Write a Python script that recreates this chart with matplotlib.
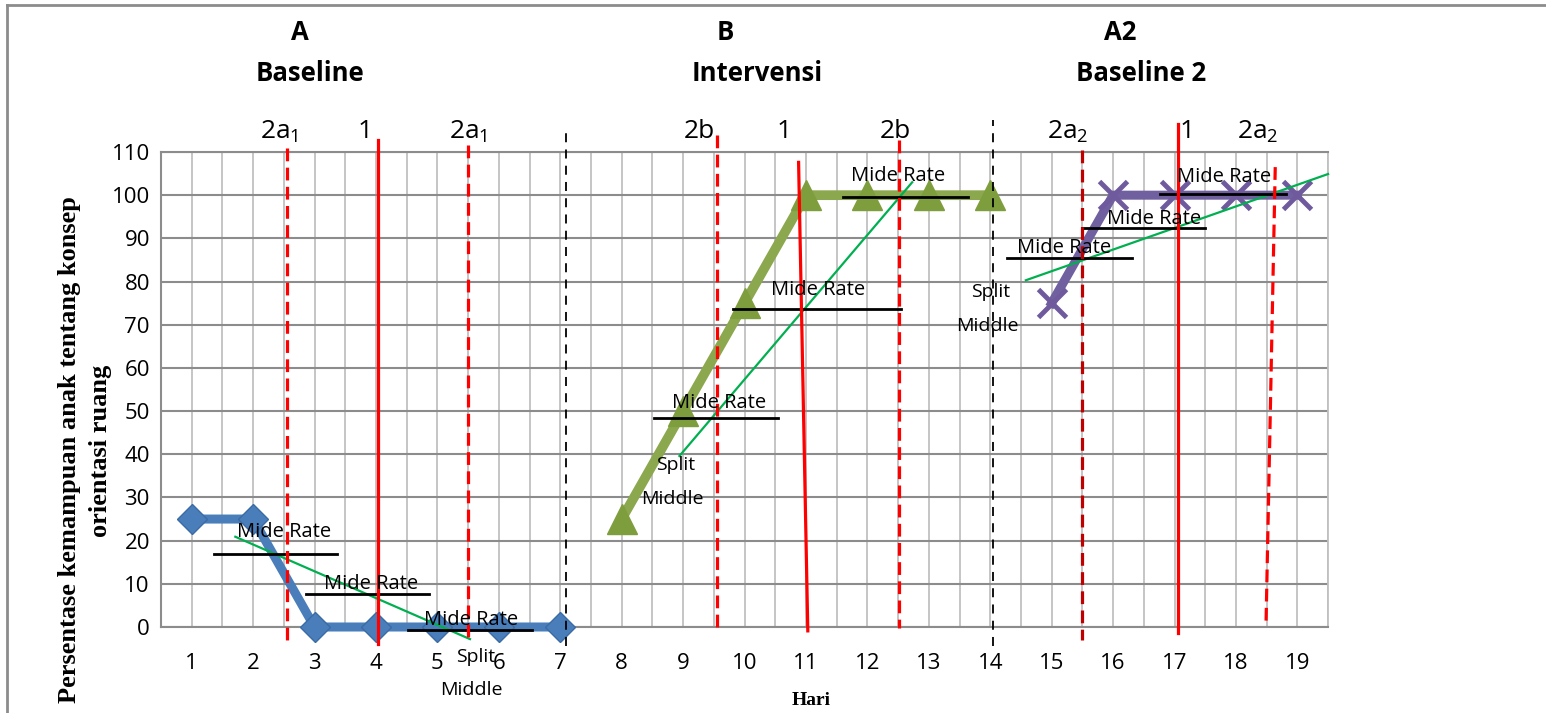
import matplotlib
matplotlib.use("Agg")
import numpy as np
import matplotlib.pyplot as plt
from matplotlib.lines import Line2D

plt.rcParams['font.family'] = ['Open Sans', 'DejaVu Sans']
plt.rcParams['mathtext.fontset'] = 'custom'
plt.rcParams['mathtext.rm'] = 'Open Sans'

# days on the x axis
days = list(range(1, 20))
day_labels = [str(d) for d in days]

# phase A (baseline), B (intervensi), A2 (baseline 2)
days_a = [1, 2, 3, 4, 5, 6, 7]
score_a = [25, 25, 0, 0, 0, 0, 0]
days_b = [8, 9, 10, 11, 12, 13, 14]
score_b = [25, 50, 75, 100, 100, 100, 100]
days_a2 = [15, 16, 17, 18, 19]
score_a2 = [75, 100, 100, 100, 100]

# mide rate lines (start, end, level) and their labels
mid_x0 = [1.36, 2.86, 4.52, 8.52, 9.82, 11.6, 14.27, 15.5, 16.77]
mid_x1 = [3.36, 4.87, 6.54, 10.55, 12.55, 13.63, 16.3, 17.5, 18.82]
mid_y = [17.0, 7.6, -0.7, 48.4, 73.6, 99.5, 85.4, 92.4, 100.2]
mid_tx = [2.5, 3.92, 5.55, 9.59, 11.2, 12.5, 15.2, 16.66, 17.8]
mid_ty = [22.0, 10.0, 1.6, 51.8, 78.0, 104.4, 87.7, 94.4, 104.2]

# split middle trend lines
trend_x = [[1.71, 5.53], [8.94, 12.73], [14.58, 19.5]]
trend_y = [[20.9, -2.8], [39.6, 103.0], [80.3, 104.9]]
split_x = [5.62, 8.88, 14.0]
split_y = [-6.9, 37.5, 77.5]
middle_x = [5.55, 8.83, 13.96]
middle_y = [-14.6, 29.6, 69.7]

# red split lines
red_x0 = [2.55, 4.04, 5.49, 9.545, 10.88, 12.51, 15.5, 17.06, 18.64]
red_y0 = [110.9, 112.7, 111.6, 113.9, 107.6, 112.7, 110.4, 116.4, 106.5]
red_x1 = [2.55, 4.04, 5.49, 9.545, 11.03, 12.51, 15.5, 17.06, 18.49]
red_y1 = [-3.9, -3.9, -3.0, -0.9, -0.9, -0.2, -3.0, -1.4, 0.9]
red_dashed = [True, False, True, True, False, True, True, False, True]
red_colors = ['#FF0000'] * 6 + ['#C00000', '#FF0000', '#FF0000']

# phase change lines
phase_x = [7.09, 14.04]
phase_top = [115.7, 117.4]
phase_bottom = [-4.4, -4.4]

top_labels = ['2a$_{1}$', '1', '2a$_{1}$', '2b', '1', '2b', '2a$_{2}$', '1', '2a$_{2}$']
top_x = [2.43, 3.83, 5.51, 9.27, 10.64, 12.46, 15.26, 17.21, 18.35]

phase_names = ['A', 'B', 'A2']
phase_subtitles = ['Baseline', 'Intervensi', 'Baseline 2']
phase_name_x = [2.76, 9.68, 16.12]
phase_sub_x = [2.92, 10.21, 16.45]

fig = plt.figure(figsize=(15.46, 7.13), dpi=100)
ax = fig.add_axes([0.10414, 0.12062, 0.7549, 0.6662])

ax.set_xlim(0.5, 19.5)
ax.set_ylim(0, 110)
ax.set_xticks(days)
ax.set_xticklabels(day_labels)
ax.set_xticks(np.arange(0.5, 19.6, 1.0), minor=True)
ax.set_yticks(np.arange(0, 111, 10))
ax.tick_params(axis='both', which='both', length=0, labelsize=16)
ax.tick_params(axis='x', pad=19)
ax.tick_params(axis='y', pad=8)
ax.grid(axis='x', which='both', color='#C0C0C0', linewidth=1.3)
ax.grid(axis='y', color='#8C8C8C', linewidth=1.5)
ax.set_axisbelow(True)
for side in ['left', 'bottom', 'top']:
    ax.spines[side].set_color('#8C8C8C')
    ax.spines[side].set_linewidth(1.5)
ax.spines['right'].set_color('#C0C0C0')
ax.spines['right'].set_linewidth(1.3)

# data series
ax.plot(days_a, score_a, color='#4A7EBB', linewidth=6.5, marker='D',
        markersize=15.5, markerfacecolor='#4A7EBB', markeredgecolor='#3A6BA5',
        clip_on=False, zorder=3)
ax.plot(days_b, score_b, color='#8BA84E', linewidth=7, marker='^',
        markersize=21, markerfacecolor='#7E9E3E', markeredgecolor='#7E9E3E',
        clip_on=False, zorder=3)
ax.plot(days_a2, score_a2, color='#7060A0', linewidth=6.5, marker='x',
        markersize=20, markeredgewidth=3.5, markeredgecolor='#6E5A9C',
        clip_on=False, zorder=3)

# trend lines
for tx, ty in zip(trend_x, trend_y):
    ax.plot(tx, ty, color='#00B050', linewidth=1.6, clip_on=False, zorder=4)
for sx, sy, mx, my in zip(split_x, split_y, middle_x, middle_y):
    ax.text(sx, sy, 'Split', fontsize=14, ha='center', va='center', zorder=6)
    ax.text(mx, my, 'Middle', fontsize=14, ha='center', va='center', zorder=6)

# mide rate
for x0, x1, y, tx, ty in zip(mid_x0, mid_x1, mid_y, mid_tx, mid_ty):
    ax.plot([x0, x1], [y, y], color='black', linewidth=2, clip_on=False, zorder=5)
    ax.text(tx, ty, 'Mide Rate', fontsize=14.5, ha='center', va='center', zorder=6)

# red split lines
for x0, y0, x1, y1, dashed, c in zip(red_x0, red_y0, red_x1, red_y1, red_dashed, red_colors):
    ax.plot([x0, x1], [y0, y1], color=c, linewidth=2.3,
            linestyle=(0, (4, 2)) if dashed else '-', clip_on=False, zorder=5)

# phase change lines
for px, pt, pb in zip(phase_x, phase_top, phase_bottom):
    ax.plot([px, px], [pb, pt], color='black', linewidth=1.3,
            linestyle=(0, (5, 4)), clip_on=False, zorder=5)

for lab, x in zip(top_labels, top_x):
    ax.text(x, 114.8, lab, fontsize=19, ha='center', va='center')

for name, sub, nx, sx in zip(phase_names, phase_subtitles, phase_name_x, phase_sub_x):
    ax.text(nx, 137.7, name, fontsize=18.5, fontweight='bold', ha='center', va='center')
    ax.text(sx, 128.2, sub, fontsize=18.5, fontweight='bold', ha='center', va='center')

ax.text(11.09, -17.1, 'Hari', fontsize=14, fontweight='bold', ha='center', va='center',
        family='Liberation Serif')

fig.text(70 / 1546, 1 - 450 / 713, 'Persentase kemampuan anak tentang konsep',
         rotation=90, fontsize=19, fontweight='bold', family='Liberation Serif',
         ha='center', va='center')
fig.text(100 / 1546, 1 - 451 / 713, 'orientasi ruang',
         rotation=90, fontsize=19, fontweight='bold', family='Liberation Serif',
         ha='center', va='center')

# outer frame
fig.add_artist(Line2D([7 / 1546, 7 / 1546], [0, 1 - 5 / 713], color='#8C8C8C', linewidth=2))
fig.add_artist(Line2D([7 / 1546, 1], [1 - 5 / 713, 1 - 5 / 713], color='#8C8C8C', linewidth=2))

fig.savefig('out.png', dpi=100)
